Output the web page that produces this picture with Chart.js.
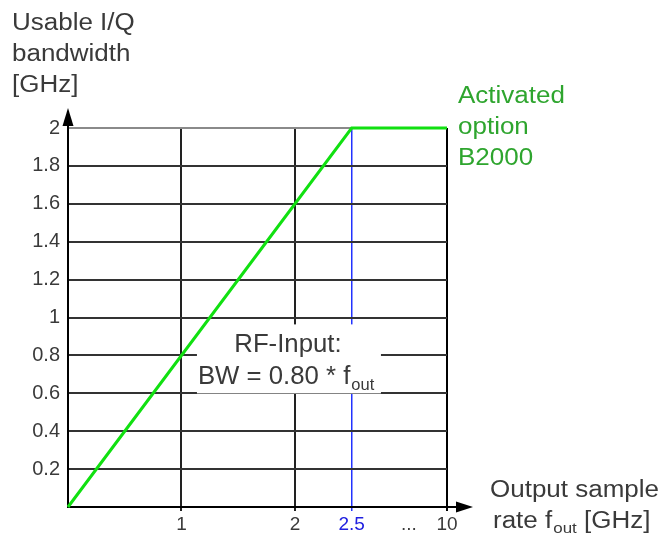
<!DOCTYPE html>
<html><head><meta charset="utf-8">
<script src="https://cdn.jsdelivr.net/npm/chart.js@4"></script>
<style>html,body{margin:0;padding:0;background:#fff}#wrap{width:664px;height:536px;position:relative}</style>
</head><body><div id="wrap"><canvas id="c" width="664" height="536"></canvas></div>
<script>
// ---- data ----
const rateValues = [0, 2.5, 10];          // output sample rate f_out [GHz]
const bandwidthValues = [0, 2, 2];        // usable I/Q bandwidth [GHz]
const xTickValues = [1, 2, 2.5, 7, 10];   // 7 stands for the axis break "..."
const xTickLabels = ['1', '2', '2.5', '...', '10'];
const yTickValues = [0, 0.2, 0.4, 0.6, 0.8, 1, 1.2, 1.4, 1.6, 1.8, 2];
const yTickLabels = ['', '0.2', '0.4', '0.6', '0.8', '1', '1.2', '1.4', '1.6', '1.8', '2'];
const yTitleLines = ['Usable I/Q', 'bandwidth', '[GHz]'];
const optionLines = ['Activated', 'option', 'B2000'];
const boxLines = ['RF-Input:', 'BW = 0.80 * f', 'out'];

// broken x axis: linear up to 2.5 GHz, compressed beyond
const BREAK = 2.5, COMPRESS = 0.112;
const pos = v => v <= BREAK ? v : BREAK + (v - BREAK) * COMPRESS;

const FONT = '"Liberation Sans", Arial, sans-serif';
const TXT = '#3a3a3a';

function sText(ctx, str, x, y, size, color, align, sx) {
  ctx.save();
  ctx.font = size + 'px ' + FONT;
  ctx.fillStyle = color;
  ctx.textBaseline = 'alphabetic';
  const w = ctx.measureText(str).width * sx;
  let x0 = x;
  if (align === 'center') x0 = x - w / 2;
  else if (align === 'right') x0 = x - w;
  ctx.translate(x0, y);
  ctx.scale(sx, 1);
  ctx.fillText(str, 0, 0);
  ctx.restore();
  return w;
}

const decor = {
  id: 'decor',
  beforeDatasetsDraw(chart) {
    const ctx = chart.ctx;
    const xs = chart.scales.x, ys = chart.scales.y;
    // white label box over the grid
    const cx = xs.getPixelForValue(2), cy = ys.getPixelForValue(0.8);
    ctx.save();
    ctx.fillStyle = '#fff';
    ctx.fillRect(cx - 98, cy - 31, 184, 69);
    ctx.restore();
    sText(ctx, boxLines[0], cx - 7, cy - 3, 25, TXT, 'center', 1.03);
    const w = sText(ctx, boxLines[1], cx - 97, cy + 29, 25, TXT, 'left', 1.03);
    sText(ctx, boxLines[2], cx - 97 + w + 1, cy + 35, 16, TXT, 'left', 1.03);
  },
  afterDraw(chart) {
    const ctx = chart.ctx;
    const a = chart.chartArea;
    ctx.save();
    ctx.fillStyle = '#000';
    ctx.strokeStyle = '#000';
    ctx.lineWidth = 2;
    // y axis arrow
    ctx.beginPath(); ctx.moveTo(a.left, a.top); ctx.lineTo(a.left, a.top - 8); ctx.stroke();
    ctx.beginPath();
    ctx.moveTo(a.left, a.top - 20); ctx.lineTo(a.left - 5.5, a.top - 2); ctx.lineTo(a.left + 5.5, a.top - 2);
    ctx.closePath(); ctx.fill();
    // x axis arrow
    ctx.beginPath(); ctx.moveTo(a.right, a.bottom); ctx.lineTo(a.right + 12, a.bottom); ctx.stroke();
    ctx.beginPath();
    ctx.moveTo(a.right + 26, a.bottom); ctx.lineTo(a.right + 9, a.bottom - 5.5); ctx.lineTo(a.right + 9, a.bottom + 5.5);
    ctx.closePath(); ctx.fill();
    ctx.restore();
    // y title
    yTitleLines.forEach((t, i) => sText(ctx, t, 12, 30 + i * 31, 23, TXT, 'left', 1.13));
    // option label
    optionLines.forEach((t, i) => sText(ctx, t, 458, 103 + i * 31, 23, '#2ea52e', 'left', 1.13));
    // x title
    sText(ctx, 'Output sample', 490, 497, 23, TXT, 'left', 1.13);
    let x = 493;
    x += sText(ctx, 'rate f', x, 528, 23, TXT, 'left', 1.13);
    x += sText(ctx, 'out', x + 1, 533, 15, TXT, 'left', 1.13) + 1;
    sText(ctx, ' [GHz]', x, 528, 23, TXT, 'left', 1.13);
  }
};

new Chart(document.getElementById('c'), {
  type: 'line',
  data: {
    datasets: [{
      data: rateValues.map((v, i) => ({ x: pos(v), y: bandwidthValues[i] })),
      borderColor: '#11e011',
      borderWidth: 3,
      pointRadius: 0,
      tension: 0,
      clip: false
    }]
  },
  options: {
    responsive: false,
    animation: false,
    devicePixelRatio: 1,
    layout: { padding: { left: 0, top: 128, right: 217, bottom: 0 } },
    plugins: { legend: { display: false }, tooltip: { enabled: false } },
    scales: {
      x: {
        type: 'linear',
        min: 0,
        max: pos(10),
        afterBuildTicks: s => { s.ticks = xTickValues.map(v => ({ value: pos(v) })); },
        afterFit: s => { s.height = 29; },
        ticks: {
          autoSkip: false,
          maxRotation: 0,
          padding: 2,
          font: { family: FONT, size: 19 },
          color: c => c.index === 2 ? '#2020e0' : TXT,
          callback: (v, i) => xTickLabels[i]
        },
        grid: {
          color: c => c.index === 2 ? '#2233ff' : (c.index === 3 ? 'rgba(0,0,0,0)' : (c.index === 4 ? '#000' : '#222')),
          lineWidth: c => c.index === 2 ? 1.5 : 2,
          tickLength: 4,
          drawTicks: true
        },
        border: { color: '#000', width: 2 }
      },
      y: {
        min: 0,
        max: 2,
        afterBuildTicks: s => { s.ticks = yTickValues.map(v => ({ value: v })); },
        afterFit: s => { s.width = 68; },
        ticks: {
          padding: 8,
          font: { family: FONT, size: 20 },
          color: TXT,
          callback: (v, i) => yTickLabels[i]
        },
        grid: {
          color: c => c.index === 10 ? '#8a8a8a' : '#333',
          lineWidth: 2,
          drawTicks: false
        },
        border: { color: '#000', width: 2 }
      }
    }
  },
  plugins: [decor]
});
</script>
</body></html>
